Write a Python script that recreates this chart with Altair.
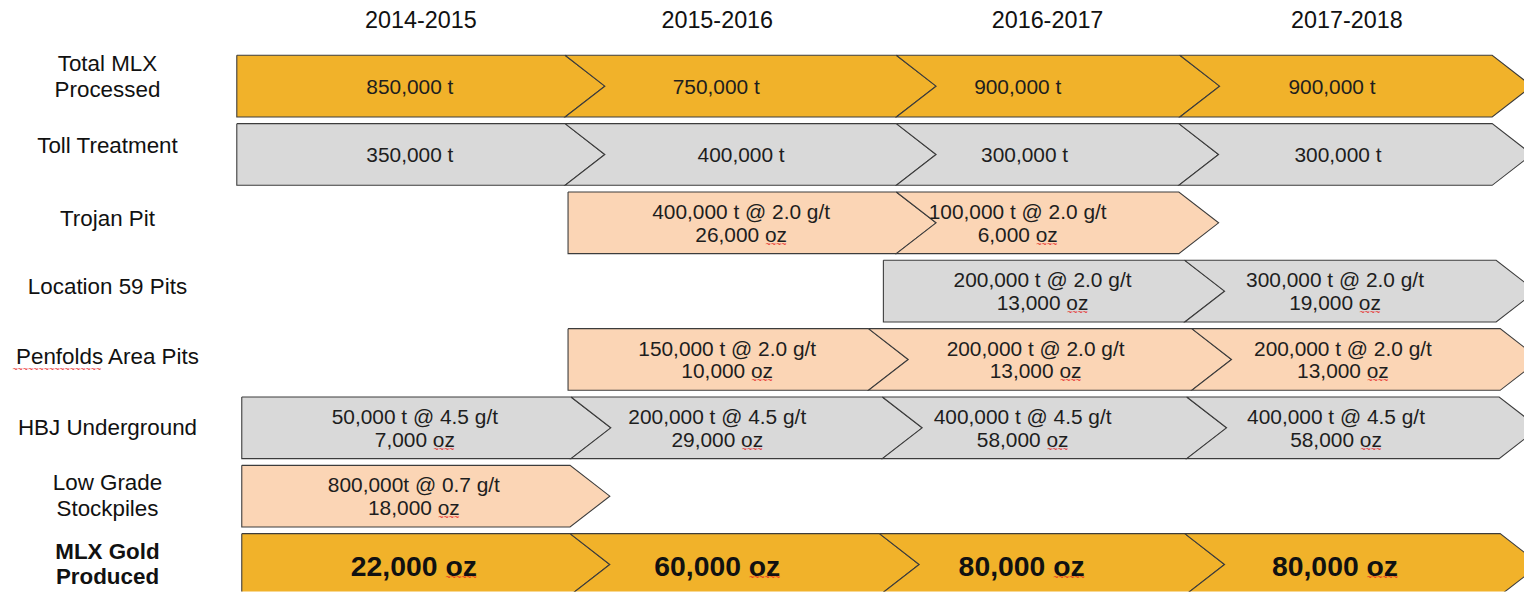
import altair as alt
import pandas as pd

# ---------------- data ----------------
years = ["2014-2015", "2015-2016", "2016-2017", "2017-2018"]
year_pos = [423, 721, 1053, 1354]

row_labels = ["Total MLX\nProcessed", "Toll Treatment", "Trojan Pit",
              "Location 59 Pits", "Penfolds Area Pits", "HBJ Underground",
              "Low Grade\nStockpiles", "MLX Gold\nProduced"]

seg_row = [0, 0, 0, 0,
           1, 1, 1, 1,
           2, 2,
           3, 3,
           4, 4, 4,
           5, 5, 5, 5,
           6,
           7, 7, 7, 7]
seg_start = [238, 568, 901, 1186,
             238, 568, 901, 1185,
             571, 901,
             888, 1191,
             571, 873, 1198,
             243, 574, 887, 1193,
             243,
             243, 573, 884, 1191]
seg_end = [568, 901, 1186, 1500,
           568, 901, 1185, 1500,
           901, 1185,
           1191, 1504,
           873, 1198, 1508,
           574, 887, 1193, 1507,
           573,
           573, 884, 1191, 1508]
seg_notch = [0, 1, 1, 1,
             0, 1, 1, 1,
             0, 1,
             0, 1,
             0, 1, 1,
             0, 1, 1, 1,
             0,
             0, 1, 1, 1]
seg_kind = ["gold"] * 4 + ["gray"] * 4 + ["peach"] * 2 + ["gray"] * 2 + \
           ["peach"] * 3 + ["gray"] * 4 + ["peach"] + ["gold"] * 4
seg_text = ["850,000 t", "750,000 t", "900,000 t", "900,000 t",
            "350,000 t", "400,000 t", "300,000 t", "300,000 t",
            "400,000 t @ 2.0 g/t\n26,000 oz", "100,000 t @ 2.0 g/t\n6,000 oz",
            "200,000 t @ 2.0 g/t\n13,000 oz", "300,000 t @ 2.0 g/t\n19,000 oz",
            "150,000 t @ 2.0 g/t\n10,000 oz", "200,000 t @ 2.0 g/t\n13,000 oz",
            "200,000 t @ 2.0 g/t\n13,000 oz",
            "50,000 t @ 4.5 g/t\n7,000 oz", "200,000 t @ 4.5 g/t\n29,000 oz",
            "400,000 t @ 4.5 g/t\n58,000 oz", "400,000 t @ 4.5 g/t\n58,000 oz",
            "800,000t @ 0.7 g/t\n18,000 oz",
            "22,000 oz", "60,000 oz", "80,000 oz", "80,000 oz"]
seg_text_pos = [412, 720, 1023, 1339,
                412, 745, 1030, 1345,
                745, 1023,
                1048, 1342,
                731, 1041, 1350,
                417, 721, 1028, 1343,
                416,
                416, 721, 1027, 1342]

# ---------------- layout / style ----------------
W, H = 1524, 585
ROW_PITCH = 68.7          # px per row
ROW0 = 85                 # px centre of first row
HALF = 31 / ROW_PITCH     # half box height in row units
TIP = 40                  # chevron tip length (x units)
label_off = [-22, -8, -4, -4, -2, 0, -13, -13]   # px, first line of row label
FS_BOX, FS_BOLD, FS_LAB, FS_HDR = 21, 28.5, 22.5, 23.5

y_dom = [(8 - ROW0) / ROW_PITCH, (593 - ROW0) / ROW_PITCH]
xs = alt.Scale(domain=[8, 8 + W], nice=False, zero=False)
ys = alt.Scale(domain=y_dom, reverse=True, nice=False, zero=False)

# chevron polygons: closed paths drawn as filled lines
pts = []
for i in range(len(seg_row)):
    r, a, b = seg_row[i], seg_start[i], seg_end[i]
    n = TIP if seg_notch[i] else 0
    ring = [(a, r - HALF), (b, r - HALF), (b + TIP, r), (b, r + HALF),
            (a, r + HALF), (a + n, r), (a, r - HALF)]
    for k, (px, py) in enumerate(ring):
        pts.append(dict(seg=i, kind=seg_kind[i], k=k, x=px, y=py))
poly = pd.DataFrame(pts)

colors = alt.Scale(domain=["gold", "gray", "peach"],
                   range=["#F1B22A", "#D9D9D9", "#FBD5B5"])

chev = alt.Chart(poly).mark_line(stroke="#3c3c3c", strokeWidth=1.1,
                                 clip=True, interpolate="linear",
                                 strokeJoin="miter").encode(
    x=alt.X("x:Q", scale=xs, axis=None),
    y=alt.Y("y:Q", scale=ys, axis=None),
    fill=alt.Fill("kind:N", scale=colors, legend=None),
    detail="seg:N",
    order="k:Q",
)

seg_df = pd.DataFrame(dict(row=seg_row, text=seg_text, tx=seg_text_pos))
two = seg_df["text"].str.contains("\n")
seg_df["ty"] = seg_df["row"] + (two * -10 + (~two) * 2) / ROW_PITCH
seg_df.loc[seg_df.row == 7, "ty"] = 7 + 3 / ROW_PITCH
reg = seg_df[seg_df.row < 7]
bold = seg_df[seg_df.row == 7]

txt_reg = alt.Chart(reg).mark_text(font="Liberation Sans", fontSize=FS_BOX,
                                   color="#1e1e1e", lineBreak="\n",
                                   lineHeight=23, baseline="middle").encode(
    x=alt.X("tx:Q", scale=xs), y=alt.Y("ty:Q", scale=ys), text="text:N")
txt_bold = alt.Chart(bold).mark_text(font="Liberation Sans", fontSize=FS_BOLD,
                                     fontWeight="bold", color="#111111",
                                     baseline="middle").encode(
    x=alt.X("tx:Q", scale=xs), y=alt.Y("ty:Q", scale=ys), text="text:N")

# red spell-check squiggles under "oz"
AW = {**{d: 0.556 for d in "0123456789"}, ",": 0.278, " ": 0.278, "t": 0.278,
      "@": 1.015, ".": 0.278, "g": 0.556, "/": 0.278, "o": 0.556, "z": 0.5}
AWB = dict(AW, o=0.611)
sq = []
for i in range(len(seg_row)):
    line = seg_text[i].split("\n")[-1]
    if not line.endswith("oz"):
        continue
    if seg_row[i] == 7:
        fs, tab, off, nt = FS_BOLD, AWB, 13, 6
    else:
        fs, tab, off, nt = FS_BOX, AW, 21, 4
    w = sum(tab[c] for c in line) * fs
    wz = (tab["o"] + tab["z"]) * fs
    sq.append(dict(x=seg_text_pos[i] + w / 2 - wz / 2,
                   y=seg_row[i] + off / ROW_PITCH, s="~" * nt))
sq.append(dict(x=57, y=4 + 10 / ROW_PITCH, s="~" * 17))
sq_df = pd.DataFrame(sq)
squig = alt.Chart(sq_df).mark_text(font="Liberation Sans", color="#e8261f",
                                   fontSize=9, baseline="middle").encode(
    x=alt.X("x:Q", scale=xs), y=alt.Y("y:Q", scale=ys), text="s:N")

lab_df = pd.DataFrame(dict(text=row_labels, r=list(range(8)), off=label_off))
lab_df["ly"] = lab_df["r"] + lab_df["off"] / ROW_PITCH
lab_df["lx"] = 108
labels = alt.Chart(lab_df[lab_df.r < 7]).mark_text(
    font="Liberation Sans", fontSize=FS_LAB, color="#111111", lineBreak="\n",
    lineHeight=26, baseline="middle").encode(
    x=alt.X("lx:Q", scale=xs), y=alt.Y("ly:Q", scale=ys), text="text:N")
labels_b = alt.Chart(lab_df[lab_df.r == 7]).mark_text(
    font="Liberation Sans", fontSize=FS_LAB, fontWeight="bold", color="#111111",
    lineBreak="\n", lineHeight=26, baseline="middle").encode(
    x=alt.X("lx:Q", scale=xs), y=alt.Y("ly:Q", scale=ys), text="text:N")

hdr_df = pd.DataFrame(dict(text=years, x=year_pos, y=[(20 - ROW0) / ROW_PITCH] * 4))
header = alt.Chart(hdr_df).mark_text(font="Liberation Sans", fontSize=FS_HDR,
                                     color="#111111", baseline="middle").encode(
    x=alt.X("x:Q", scale=xs), y=alt.Y("y:Q", scale=ys), text="text:N")

chart = alt.layer(chev, txt_reg, txt_bold, squig, labels, labels_b,
                  header).properties(
    width=W, height=H, autosize=alt.AutoSizeParams(type="none"), padding=0,
    background="white"
).configure_view(stroke=None)

chart.save("out.html", embed_options={"renderer": "svg", "actions": False})
